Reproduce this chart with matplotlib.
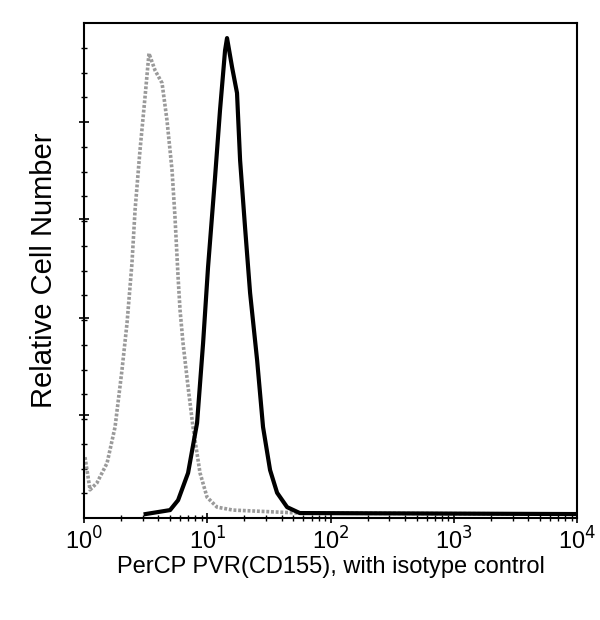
import matplotlib

matplotlib.use("Agg")
import matplotlib.pyplot as plt
import numpy as np

plt.rcParams["font.family"] = ["Liberation Sans", "DejaVu Sans"]

# log10 intensity and relative count (% of axis height)
iso_logx = [0.008, 0.049, 0.105, 0.187, 0.252, 0.308, 0.349, 0.389, 0.414, 0.454,
            0.495, 0.527, 0.576, 0.633, 0.673, 0.714, 0.738, 0.763, 0.779, 0.803,
            0.844, 0.884, 0.941, 0.998, 1.079, 1.209, 1.75, 4.0]
iso_y = [12.3, 5.7, 7.1, 11.1, 18.4, 29.9, 39.4, 51.5, 62.2, 74.3,
         85.1, 93.9, 90.5, 87.9, 80.4, 70.3, 60.8, 48.7, 42.0, 35.4,
         26.5, 18.4, 9.1, 4.2, 2.2, 1.6, 1.0, 0.8]

pvr_logx = [0.5, 0.698, 0.763, 0.844, 0.917, 0.966, 1.006, 1.063, 1.103, 1.144,
            1.160, 1.201, 1.241, 1.266, 1.306, 1.347, 1.404, 1.452, 1.509, 1.566,
            1.647, 1.75, 4.0]
pvr_y = [0.8, 1.6, 3.6, 9.1, 19.2, 35.4, 50.7, 68.9, 82.4, 94.5,
         97.0, 91.1, 85.9, 72.3, 58.8, 45.5, 31.9, 18.4, 9.7, 5.1,
         2.2, 1.0, 0.8]

y_major = [20.8, 40.4, 60.4, 80.0]

fig = plt.figure(figsize=(6, 6.2), dpi=100)
ax = fig.add_axes([0.14, 0.1645, 0.822, 0.798])

ax.plot(10 ** np.array(iso_logx), iso_y, color="#9a9a9a", linewidth=2.6, linestyle=(0, (0.8, 0.5)))
ax.plot(10 ** np.array(pvr_logx), pvr_y, color="black", linewidth=3)

ax.set_xscale("log")
ax.set_xlim(1, 1e4)
ax.set_ylim(0, 100)
ax.set_xticks([1, 10, 100, 1000, 10000])
ax.set_xticklabels(["10$^0$", "10$^1$", "10$^2$", "10$^3$", "10$^4$"], fontsize=17)
ax.set_yticks(y_major)
ax.set_yticks(np.arange(5, 100, 5), minor=True)
ax.set_yticklabels([])
ax.tick_params(axis="both", which="major", direction="inout", length=7, width=1.2)
ax.tick_params(axis="both", which="minor", direction="inout", length=4, width=1)
for spine in ax.spines.values():
    spine.set_linewidth(1.5)

ax.set_xlabel("PerCP PVR(CD155), with isotype control", fontsize=17, labelpad=1)
ax.set_ylabel("Relative Cell Number", fontsize=21, labelpad=12)

fig.savefig("out.png", dpi=100)
